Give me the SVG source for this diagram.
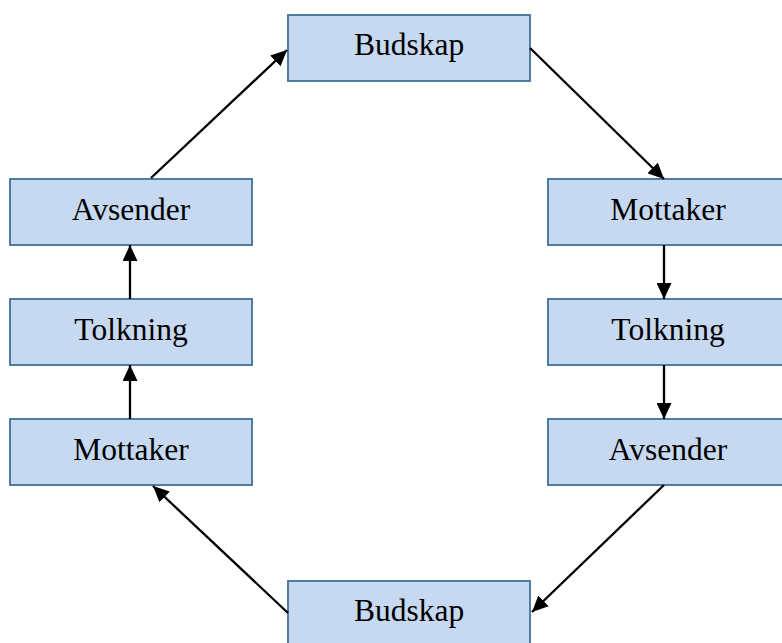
<svg xmlns="http://www.w3.org/2000/svg" width="782" height="643" viewBox="0 0 782 643">
  <defs>
    <marker id="arrow" viewBox="0 0 16 15" refX="16" refY="7.5" markerWidth="16" markerHeight="15" markerUnits="userSpaceOnUse" orient="auto">
      <path d="M0,0 L16,7.5 L0,15 Z" fill="#000"/>
    </marker>
    <style>
      .box { fill: #C6D9F1; stroke: #41719C; stroke-width: 1.8; }
      .label { font-family: "Liberation Serif", "Times New Roman", serif; font-size: 31.5px; fill: #000; text-anchor: middle; }
      .conn { stroke: #000; stroke-width: 2.3; fill: none; marker-end: url(#arrow); }
    </style>
  </defs>
  <rect width="782" height="643" fill="#fff"/>

  <g id="budskap-top">
    <rect class="box" x="288" y="15" width="242" height="66"/>
    <text class="label" x="409" y="55">Budskap</text>
  </g>
  <g id="mottaker-right">
    <rect class="box" x="548" y="179" width="242" height="66"/>
    <text class="label" x="668" y="220">Mottaker</text>
  </g>
  <g id="tolkning-right">
    <rect class="box" x="548" y="299" width="242" height="66"/>
    <text class="label" x="668" y="340">Tolkning</text>
  </g>
  <g id="avsender-right">
    <rect class="box" x="548" y="419" width="242" height="66"/>
    <text class="label" x="668" y="460">Avsender</text>
  </g>
  <g id="budskap-bottom">
    <rect class="box" x="288" y="581" width="242" height="66"/>
    <text class="label" x="409" y="621">Budskap</text>
  </g>
  <g id="mottaker-left">
    <rect class="box" x="10" y="419" width="242" height="66"/>
    <text class="label" x="131" y="460">Mottaker</text>
  </g>
  <g id="tolkning-left">
    <rect class="box" x="10" y="299" width="242" height="66"/>
    <text class="label" x="131" y="340">Tolkning</text>
  </g>
  <g id="avsender-left">
    <rect class="box" x="10" y="179" width="242" height="66"/>
    <text class="label" x="131" y="220">Avsender</text>
  </g>

  <g id="connectors">
    <line class="conn" x1="530" y1="48" x2="664" y2="179"/>
    <line class="conn" x1="664" y1="245" x2="664" y2="299"/>
    <line class="conn" x1="664" y1="365" x2="664" y2="419"/>
    <line class="conn" x1="664" y1="485" x2="532" y2="612"/>
    <line class="conn" x1="288" y1="613" x2="153" y2="486"/>
    <line class="conn" x1="130" y1="419" x2="130" y2="365"/>
    <line class="conn" x1="130" y1="299" x2="130" y2="245"/>
    <line class="conn" x1="151" y1="178" x2="287" y2="50"/>
  </g>
</svg>
